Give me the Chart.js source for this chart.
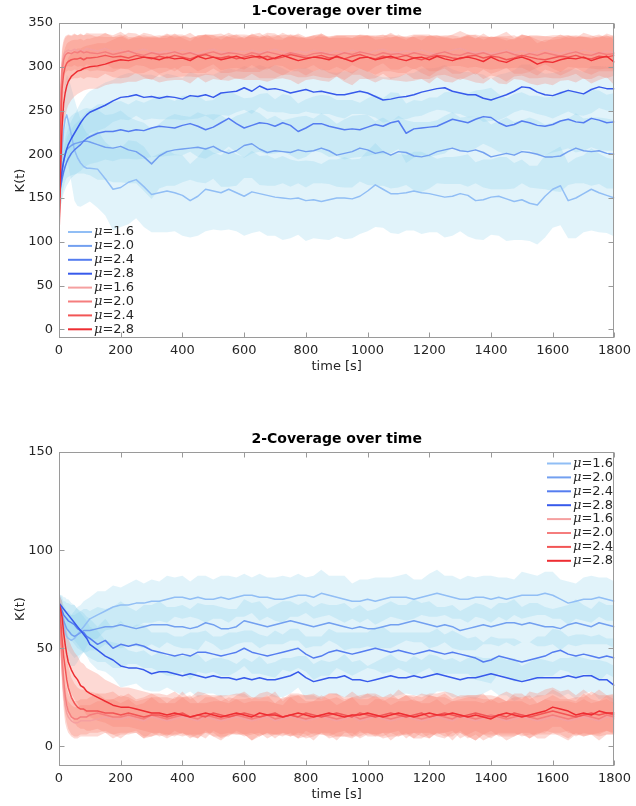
<!DOCTYPE html>
<html>
<head>
<meta charset="utf-8">
<script src="https://cdn.jsdelivr.net/npm/chart.js@4.4.0/dist/chart.umd.min.js"></script>
<style>
  html, body { margin: 0; padding: 0; background: #fff; }
  #wrap { position: relative; width: 636px; height: 806px; }
  canvas { position: absolute; left: 0; }
</style>
</head>
<body>
<div id="wrap">
  <canvas id="c1" width="636" height="400" style="top:0"></canvas>
  <canvas id="c2" width="636" height="406" style="top:400px"></canvas>
</div>
<script>
// time axis (s)
const TIME = [0,5,10,15,20,25,30,40,50,60,70,80,90,
  100,125,150,175,200,225,250,275,300,325,
  350,375,400,425,450,475,500,525,550,575,
  600,625,650,675,700,725,750,775,800,825,
  850,875,900,925,950,975,1000,1025,1050,1075,
  1100,1125,1150,1175,1200,1225,1250,1275,1300,1325,
  1350,1375,1400,1425,1450,1475,1500,1525,1550,1575,
  1600,1625,1650,1675,1700,1725,1750,1775,1800];

const MU_LABELS = ["1.6", "2.0", "2.4", "2.8"];
const X_TICKS = [0,200,400,600,800,1000,1200,1400,1600,1800];
const Y1_TICKS = [0,50,100,150,200,250,300,350];
const Y2_TICKS = [0,50,100,150];

// ---- 1-Coverage: means ----
const K1_BLUE_16 = [150,175,205,228,240,245,238,222,205,196,190,186,184,
  184,183,172,160,162,168,171,163,154,156,
  158,156,153,147,152,160,158,156,160,156,
  152,157,155,153,151,150,149,150,147,148,
  146,148,150,150,149,152,158,165,160,155,
  155,156,158,156,155,153,151,152,155,153,
  147,148,151,152,149,146,148,144,142,152,
  160,164,147,150,155,160,156,153,150];
const K1_BLUE_20 = [150,165,180,192,200,205,207,210,212,213,214,215,215,
  214,211,208,207,209,205,203,197,189,198,
  203,205,206,207,208,206,209,204,201,204,
  210,212,206,202,204,203,202,205,203,204,
  207,204,199,201,203,207,205,201,203,199,
  203,202,198,197,199,203,205,207,204,203,
  205,202,197,199,201,199,203,202,200,197,
  197,198,203,207,204,203,204,201,200];
const K1_BLUE_24 = [150,162,172,180,186,191,195,201,205,208,211,215,218,
  220,224,226,226,228,226,228,227,230,232,
  231,230,233,235,232,228,231,236,241,235,
  230,233,236,235,232,236,233,226,230,235,
  235,232,230,228,229,228,231,234,232,236,
  238,224,229,230,231,232,236,240,238,236,
  240,243,242,236,232,234,238,236,233,232,
  234,238,240,237,236,241,239,236,237];
const K1_BLUE_28 = [150,168,182,192,200,206,211,218,224,230,236,241,245,
  248,252,256,261,265,266,268,265,266,264,
  266,265,263,267,266,268,265,270,271,272,
  276,272,278,274,275,273,270,272,274,271,
  272,270,268,268,270,272,270,266,262,263,
  265,266,268,271,273,275,276,272,270,268,
  268,264,262,265,268,272,277,276,271,268,
  267,270,273,271,269,274,277,275,275];
const K1_RED_16 = [105,265,302,313,317,318,319,318,320,318,319,318,321,
  320,318,321,317,319,316,318,320,317,316,
  318,316,319,317,315,318,320,317,316,318,
  317,319,316,318,320,317,315,318,316,319,
  317,315,318,316,319,317,315,318,320,317,
  316,318,317,319,316,314,317,319,321,318,
  316,318,315,317,319,316,318,315,317,319,
  317,315,318,316,319,317,315,318,316];
const K1_RED_20 = [105,250,295,308,313,315,316,315,317,316,318,316,317,
  316,315,317,314,316,318,315,313,316,314,
  315,317,314,316,313,315,317,314,316,315,
  313,316,314,317,315,313,316,314,312,315,
  316,314,313,316,314,317,315,313,316,314,
  315,313,316,314,312,315,317,314,313,316,
  314,316,313,315,317,314,312,315,313,316,
  314,312,315,317,314,313,316,314,315];
const K1_RED_24 = [105,230,275,292,300,304,306,308,309,309,310,308,310,
  310,311,313,311,312,310,313,311,309,312,
  310,313,311,309,312,314,311,310,312,309,
  311,313,310,312,309,311,314,312,310,311,
  313,310,311,309,312,314,311,309,312,310,
  311,313,310,308,311,313,312,310,309,312,
  313,310,312,311,308,310,313,311,309,308,
  310,312,311,313,310,309,312,311,313];
const K1_RED_28 = [105,180,232,258,270,278,283,289,292,295,296,298,299,
  300,301,303,306,308,307,309,311,310,308,
  311,309,310,307,312,309,311,308,310,312,
  309,311,312,308,310,313,310,307,309,311,
  310,308,312,309,306,310,311,308,310,312,
  309,307,310,311,308,312,309,307,310,311,
  309,306,311,307,305,309,311,308,303,306,
  305,308,310,309,311,307,310,312,305];

// ---- 1-Coverage: standard deviations ----
const K1_BLUE_16_SD = [30,32,35,38,42,46,50,54,58,55,50,44,40,
  38,44,42,47,45,48,44,46,43,45,
  47,44,46,42,45,48,44,43,46,44,
  45,47,43,46,44,48,45,42,46,44,
  43,46,44,47,45,43,46,48,44,45,
  46,43,45,47,44,42,46,45,43,47,
  44,46,43,45,48,44,46,43,45,47,
  44,45,43,46,44,47,45,43,44];
const K1_BLUE_20_SD = [25,27,29,30,31,32,33,34,35,35,36,37,38,
  38,40,37,39,41,38,36,39,40,37,
  39,41,38,36,40,39,37,41,38,40,
  37,39,41,38,40,36,39,38,41,37,
  40,38,36,39,41,38,40,37,39,38,
  41,37,39,40,38,36,39,41,38,40,
  38,40,37,39,41,38,36,40,39,37,
  39,41,38,40,37,39,38,40,39];
const K1_BLUE_24_SD = [20,22,24,25,26,27,28,28,29,29,30,30,31,
  31,33,32,34,33,31,34,32,33,35,
  33,31,34,32,35,33,31,34,32,33,
  34,32,33,35,31,33,34,32,33,31,
  33,35,32,34,33,31,33,34,32,35,
  32,34,33,31,34,33,35,32,33,34,
  33,31,34,33,32,35,33,31,34,33,
  32,34,33,35,32,33,34,32,33];
const K1_BLUE_28_SD = [15,16,17,18,18,19,19,20,21,22,23,23,24,
  24,25,26,24,25,27,24,26,25,24,
  26,25,24,27,25,24,26,25,27,24,
  25,26,24,25,27,25,24,26,25,24,
  26,24,25,27,24,26,25,24,26,25,
  24,26,25,27,25,24,26,25,24,26,
  25,27,24,26,25,24,26,27,25,24,
  26,25,24,26,25,27,24,25,26];
const K1_RED_16_SD = [8,28,20,18,18,18,18,18,18,18,18,18,18,
  18,20,17,19,21,18,16,19,20,17,
  19,21,18,16,20,19,17,21,18,19,
  20,17,19,21,18,16,19,20,18,17,
  21,19,18,20,17,19,21,18,16,20,
  19,17,20,18,21,19,17,18,20,19,
  16,20,18,19,21,17,19,20,18,16,
  19,21,18,17,20,19,18,20,19];
const K1_RED_20_SD = [8,30,22,20,20,20,20,20,20,20,20,20,20,
  21,19,22,20,18,21,23,20,19,22,
  20,18,21,23,20,22,19,21,23,20,
  19,22,20,18,21,23,21,19,22,20,
  18,21,23,20,22,19,20,22,21,19,
  22,20,18,21,23,20,19,22,21,20,
  23,19,21,20,18,22,20,21,23,19,
  20,22,21,18,20,22,21,19,20];
const K1_RED_24_SD = [8,35,28,24,22,22,22,22,22,22,22,22,22,
  22,24,21,23,25,22,20,23,24,21,
  23,25,22,20,24,23,21,25,22,23,
  24,21,23,25,22,20,23,24,22,21,
  25,23,22,24,21,23,25,22,20,24,
  23,21,24,22,25,23,21,22,24,23,
  20,24,22,23,25,21,23,24,22,20,
  23,25,22,21,24,23,22,24,23];
const K1_RED_28_SD = [8,40,38,32,28,27,27,27,26,26,25,25,25,
  25,26,24,25,27,24,26,25,24,26,
  27,24,25,26,24,27,25,23,26,25,
  24,26,27,25,24,26,25,27,24,25,
  26,25,23,26,27,24,25,26,24,27,
  25,24,26,25,27,24,26,25,23,26,
  27,25,24,26,25,23,26,27,24,25,
  26,24,25,27,24,26,25,24,26];

// ---- 2-Coverage: means ----
const K2_BLUE_16 = [73,70,66,62,58,56,55,54,55,57,59,61,63,
  65,67,69,71,72,72,73,73,74,74,
  75,76,76,75,76,75,75,76,75,76,
  77,77,76,76,75,75,76,77,77,76,
  78,77,76,75,74,74,75,74,75,76,
  76,76,75,76,77,78,77,76,75,75,
  76,76,75,76,75,76,77,77,77,78,
  77,75,73,74,75,75,76,75,74];
const K2_BLUE_20 = [73,70,67,64,62,60,59,57,56,57,58,59,59,
  59,60,61,61,62,61,60,61,62,62,
  62,61,61,60,61,63,62,60,60,61,
  64,63,62,61,62,63,64,63,62,61,
  62,63,62,61,60,61,60,60,61,62,
  62,63,64,63,62,61,62,61,59,60,
  61,62,61,62,63,63,62,63,62,61,
  61,60,62,63,62,61,63,62,61];
const K2_BLUE_24 = [73,71,69,67,66,65,64,63,62,60,59,58,56,
  55,52,54,50,52,51,52,51,49,48,
  47,46,47,46,48,48,47,46,47,48,
  50,48,47,46,47,48,49,50,47,45,
  46,48,49,48,47,48,49,50,49,48,
  49,48,47,48,49,48,47,48,47,46,
  45,43,44,46,45,44,43,44,45,46,
  48,49,47,46,47,46,45,46,45];
const K2_BLUE_28 = [73,72,71,70,69,68,67,65,63,61,59,57,55,
  52,49,46,44,41,40,40,39,37,38,
  38,37,36,37,36,35,36,35,35,34,
  35,34,35,34,34,35,36,38,35,33,
  34,35,35,36,34,34,33,34,35,36,
  35,35,36,35,36,37,36,35,34,35,
  35,36,37,36,35,34,33,34,35,35,
  35,35,36,35,36,36,34,34,31];
const K2_RED_16 = [73,55,40,28,21,17,15,13,12,12,13,13,13,
  13,14,15,14,14,15,14,13,15,14,
  13,14,15,14,13,15,14,13,14,15,
  14,13,14,15,13,14,15,14,13,14,
  15,14,13,14,15,13,14,15,14,13,
  14,15,14,13,14,15,14,13,15,14,
  13,14,15,14,13,14,15,14,13,14,
  15,14,13,14,15,14,13,15,14];
const K2_RED_20 = [73,58,45,34,26,21,18,15,14,14,15,15,15,
  16,17,16,15,15,16,15,14,16,15,
  14,15,16,15,14,16,15,14,15,16,
  15,14,15,16,14,15,16,15,14,15,
  16,15,14,15,16,14,15,16,15,14,
  15,16,15,14,15,16,15,14,16,15,
  14,15,16,15,14,15,16,15,14,15,
  16,15,14,15,16,15,14,16,15];
const K2_RED_24 = [73,65,55,46,40,34,30,25,22,20,19,19,18,
  18,18,17,17,16,17,16,15,16,16,
  15,16,17,15,16,15,17,16,15,16,
  17,16,15,16,17,15,16,15,17,16,
  15,16,17,16,15,17,16,15,16,17,
  16,15,16,17,15,16,17,16,15,16,
  17,16,15,16,15,17,16,15,16,17,
  18,17,16,15,16,17,16,17,16];
const K2_RED_28 = [73,70,66,58,52,47,43,39,36,34,31,30,28,
  27,25,23,21,20,20,19,18,17,17,
  16,17,16,15,16,17,16,15,16,17,
  16,15,17,16,16,15,16,17,16,15,
  16,17,16,15,16,16,17,16,15,16,
  17,16,15,16,17,16,16,17,16,15,
  16,15,14,16,17,16,15,16,17,18,
  20,19,18,16,17,16,18,17,17];

// ---- 2-Coverage: standard deviations ----
const K2_BLUE_16_SD = [5,6,8,9,10,11,12,13,14,14,13,13,12,
  11,12,10,11,9,11,12,10,11,10,
  12,10,11,9,11,12,10,11,12,10,
  11,9,12,10,11,12,10,11,9,11,
  12,10,11,12,9,11,10,12,11,10,
  11,12,10,9,11,12,10,11,10,12,
  10,11,12,10,11,9,12,11,10,11,
  12,10,11,9,11,12,10,11,10];
const K2_BLUE_20_SD = [5,6,7,8,9,9,10,10,11,11,11,11,11,
  10,11,9,10,12,10,9,11,10,12,
  9,10,11,10,12,9,10,11,10,9,
  11,10,12,9,10,11,10,9,12,10,
  11,9,10,12,10,11,9,10,11,12,
  10,9,11,10,12,10,9,11,10,11,
  12,10,9,11,10,12,9,10,11,10,
  9,11,10,12,10,9,11,10,11];
const K2_BLUE_24_SD = [5,6,7,7,8,8,9,9,10,10,10,10,10,
  10,9,11,10,12,9,10,11,9,10,
  11,10,9,12,10,11,9,10,11,10,
  9,11,10,10,12,9,11,10,9,11,
  10,12,9,10,11,10,9,11,12,10,
  9,10,11,10,9,12,10,11,10,9,
  11,10,12,9,10,11,10,9,11,10,
  12,10,9,11,10,10,12,9,10];
const K2_BLUE_28_SD = [5,5,6,6,7,7,8,8,9,9,9,9,9,
  9,10,8,9,11,9,8,10,9,10,
  8,9,10,9,11,8,9,10,9,8,
  10,9,11,8,9,10,9,8,11,9,
  10,8,9,11,9,10,8,9,10,11,
  9,8,10,9,11,9,8,10,9,10,
  11,9,8,10,9,11,8,9,10,9,
  8,10,9,11,9,8,10,9,10];
const K2_RED_16_SD = [5,9,10,9,9,8,8,8,8,8,8,8,8,
  8,9,8,10,8,9,7,9,10,8,
  9,8,10,8,9,7,9,10,8,9,
  8,10,9,8,9,7,10,8,9,9,
  8,10,8,9,10,8,7,9,10,8,
  9,8,10,9,8,9,7,10,8,9,
  10,8,9,8,10,9,8,7,9,10,
  8,9,10,8,9,8,10,9,8];
const K2_RED_20_SD = [5,9,10,10,10,9,9,9,9,9,9,9,9,
  9,10,8,9,11,9,8,10,9,10,
  8,10,9,11,8,9,10,9,10,8,
  9,11,9,10,8,10,9,11,9,8,
  10,9,11,8,9,10,9,10,8,11,
  9,10,8,9,11,9,10,9,8,10,
  11,9,8,10,9,10,9,11,8,9,
  10,9,10,8,11,9,9,10,9];
const K2_RED_24_SD = [5,8,10,11,11,11,11,10,10,10,10,10,10,
  10,9,10,11,9,10,8,10,11,9,
  10,8,11,9,10,11,9,10,8,10,
  11,9,10,9,11,8,10,11,9,10,
  9,11,10,8,10,9,11,10,9,10,
  8,11,9,10,11,9,10,8,11,10,
  9,10,11,9,8,10,11,9,10,9,
  11,10,8,10,9,11,10,9,10];
const K2_RED_28_SD = [5,6,8,10,11,12,12,12,12,12,12,12,12,
  12,12,11,11,10,10,10,10,10,10,
  10,11,9,10,12,10,9,11,10,10,
  11,9,10,12,10,9,11,10,10,12,
  9,10,11,10,12,9,10,11,10,9,
  12,10,11,9,10,11,12,10,9,11,
  10,12,9,10,11,10,9,12,10,11,
  10,9,11,10,12,10,11,9,10];

const FONT = '"DejaVu Sans", sans-serif';
const TEXT = "#262626";
const BLUE_LINES = ["rgb(145,190,245)", "rgb(115,160,240)", "rgb(85,125,240)", "rgb(55,90,235)"];
const RED_LINES = ["rgb(245,160,160)", "rgb(245,125,125)", "rgb(242,85,85)", "rgb(238,45,50)"];
const BLUE_BAND = "rgba(135,206,235,0.25)";
const RED_BAND = "rgba(250,128,114,0.3)";

Chart.defaults.font.family = FONT;

function pts(mean, sd, sign) {
  return TIME.map((t, i) => ({ x: t, y: mean[i] + sign * sd[i] }));
}

function buildDatasets(blue, blueSd, red, redSd) {
  const ds = [];
  const band = (mean, sd, color, order) => {
    ds.push({ data: pts(mean, sd, -1), borderWidth: 0, pointRadius: 0, fill: false, order });
    ds.push({ data: pts(mean, sd, 1), borderWidth: 0, pointRadius: 0, fill: "-1", backgroundColor: color, order });
  };
  const line = (mean, color, order) => {
    ds.push({ data: pts(mean, mean.map(() => 0), 0), borderColor: color, borderWidth: 1.5,
      pointRadius: 0, fill: false, order });
  };
  blue.forEach((m, k) => band(m, blueSd[k], BLUE_BAND, 40 - k));
  red.forEach((m, k) => band(m, redSd[k], RED_BAND, 30 - k));
  blue.forEach((m, k) => line(m, BLUE_LINES[k], 20 - k));
  red.forEach((m, k) => line(m, RED_LINES[k], 10 - k));
  return ds;
}

// axes box, inward ticks, title and legend drawn MATLAB-style
const frame = {
  id: "frame",
  afterDraw(chart, args, opts) {
    const { ctx, chartArea: a, scales } = chart;
    ctx.save();
    const L = Math.round(a.left) + 0.5, R = Math.round(a.right) - 0.5;
    const T = Math.round(a.top) + 0.5, B = Math.round(a.bottom) - 0.5;
    ctx.strokeStyle = "#9a9a9a";
    ctx.lineWidth = 1;
    ctx.strokeRect(L, T, R - L, B - T);
    ctx.beginPath();
    scales.x.ticks.forEach(t => {
      const px = Math.round(scales.x.getPixelForValue(t.value)) + 0.5;
      ctx.moveTo(px, B); ctx.lineTo(px, B - 5);
      ctx.moveTo(px, T); ctx.lineTo(px, T + 5);
    });
    scales.y.ticks.forEach(t => {
      const py = Math.round(scales.y.getPixelForValue(t.value)) + 0.5;
      ctx.moveTo(L, py); ctx.lineTo(L + 5, py);
      ctx.moveTo(R, py); ctx.lineTo(R - 5, py);
    });
    ctx.stroke();

    ctx.fillStyle = "#000";
    ctx.font = "bold 14px " + FONT;
    ctx.textAlign = "center";
    ctx.textBaseline = "middle";
    ctx.fillText(opts.title, (a.left + a.right) / 2, opts.titleY);

    const colors = BLUE_LINES.concat(RED_LINES);
    const labels = MU_LABELS.concat(MU_LABELS);
    ctx.textAlign = "left";
    labels.forEach((lab, i) => {
      const y = opts.legendY + i * opts.legendDy;
      ctx.strokeStyle = colors[i];
      ctx.lineWidth = 2;
      ctx.beginPath();
      ctx.moveTo(opts.legendX, y);
      ctx.lineTo(opts.legendX + 24, y);
      ctx.stroke();
      ctx.fillStyle = TEXT;
      ctx.font = 'italic 13px "DejaVu Serif", serif';
      ctx.fillText("\u03bc", opts.legendX + 26, y);
      const w = ctx.measureText("\u03bc").width;
      ctx.font = "13px " + FONT;
      ctx.fillText("=" + lab, opts.legendX + 26 + w, y);
    });
    ctx.restore();
  }
};

function makeChart(id, datasets, yMin, yMax, yTicks, padding, frameOpts) {
  return new Chart(document.getElementById(id), {
    type: "line",
    data: { datasets },
    plugins: [frame],
    options: {
      responsive: false,
      animation: false,
      layout: { padding },
      elements: { line: { tension: 0, borderJoinStyle: "round" } },
      plugins: {
        legend: { display: false },
        tooltip: { enabled: false },
        title: { display: false },
        frame: frameOpts
      },
      scales: {
        x: {
          type: "linear", min: 0, max: 1800,
          afterBuildTicks: s => { s.ticks = X_TICKS.map(v => ({ value: v })); },
          afterFit: s => { s.height = 40; },
          grid: { display: false, drawTicks: false },
          border: { display: false },
          ticks: { padding: 5, color: TEXT, font: { size: 13 }, maxRotation: 0, autoSkip: false,
            callback: v => String(v) },
          title: { display: true, text: "time [s]", color: TEXT, font: { size: 13 },
            padding: { top: 0, bottom: 4 } }
        },
        y: {
          type: "linear", min: yMin, max: yMax,
          afterBuildTicks: s => { s.ticks = yTicks.map(v => ({ value: v })); },
          afterFit: s => { s.width = 59; },
          grid: { display: false, drawTicks: false },
          border: { display: false },
          ticks: { padding: 6, color: TEXT, font: { size: 13 }, callback: v => String(v) },
          title: { display: true, text: "K(t)", color: TEXT, font: { size: 13 },
            padding: { top: 13, bottom: 0 } }
        }
      }
    }
  });
}

makeChart("c1",
  buildDatasets([K1_BLUE_16, K1_BLUE_20, K1_BLUE_24, K1_BLUE_28],
    [K1_BLUE_16_SD, K1_BLUE_20_SD, K1_BLUE_24_SD, K1_BLUE_28_SD],
    [K1_RED_16, K1_RED_20, K1_RED_24, K1_RED_28],
    [K1_RED_16_SD, K1_RED_20_SD, K1_RED_24_SD, K1_RED_28_SD]),
  -10, 350, Y1_TICKS,
  { top: 23, right: 17, bottom: 22, left: 0 },
  { title: "1-Coverage over time", titleY: 11, legendX: 68, legendY: 232, legendDy: 13.9 });

makeChart("c2",
  buildDatasets([K2_BLUE_16, K2_BLUE_20, K2_BLUE_24, K2_BLUE_28],
    [K2_BLUE_16_SD, K2_BLUE_20_SD, K2_BLUE_24_SD, K2_BLUE_28_SD],
    [K2_RED_16, K2_RED_20, K2_RED_24, K2_RED_28],
    [K2_RED_16_SD, K2_RED_20_SD, K2_RED_24_SD, K2_RED_28_SD]),
  -10, 150, Y2_TICKS,
  { top: 52, right: 17, bottom: 0, left: 0 },
  { title: "2-Coverage over time", titleY: 39, legendX: 547, legendY: 63.5, legendDy: 13.9 });
</script>
</body>
</html>
